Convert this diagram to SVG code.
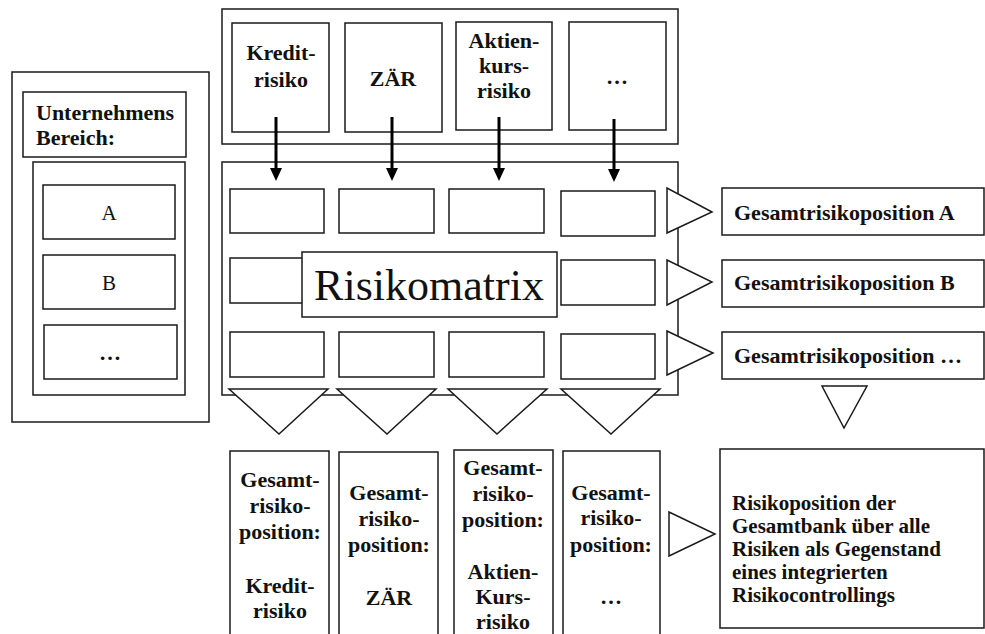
<svg xmlns="http://www.w3.org/2000/svg" width="985" height="634" viewBox="0 0 985 634">
<defs>
<style>
rect, polygon { fill: #fff; stroke: #1a1a1a; stroke-width: 1.5; }
rect.bg { stroke: none; }
text { font-family: "Liberation Serif", "Times New Roman", serif; fill: #111; }
.b { font-weight: bold; font-size: 22px; }
.s { font-weight: bold; font-size: 21px; }
.c { text-anchor: middle; }
.r { font-size: 21px; }
.arr { stroke: #000; stroke-width: 3; fill: none; }
.head { fill: #000; stroke: none; }
</style>
</defs>
<rect class="bg" width="985" height="634"/>

<g id="unternehmen">
<rect x="12" y="72" width="197" height="350"/>
<rect x="23" y="92" width="163" height="65"/>
<text class="b" x="36" y="120">Unternehmens</text>
<text class="b" x="36" y="145">Bereich:</text>
<rect x="33" y="162" width="152" height="233"/>
</g>
<g id="bereich-a"><rect x="43" y="185" width="132" height="54"/><text class="r c" x="109" y="220">A</text></g>
<g id="bereich-b"><rect x="43" y="255" width="132" height="54"/><text class="r c" x="109" y="290">B</text></g>
<g id="bereich-etc"><rect x="44" y="325" width="133" height="54"/><text class="b c" x="110" y="360">…</text></g>

<g id="risikoarten">
<rect x="222" y="9" width="456" height="135"/>
</g>
<g id="kreditrisiko"><rect x="232" y="23" width="97" height="109"/>
<text class="b c" x="281" y="60">Kredit-</text><text class="b c" x="281" y="87">risiko</text></g>
<g id="zaer"><rect x="345" y="23" width="97" height="109"/>
<text class="b c" x="393" y="86">ZÄR</text></g>
<g id="aktienkursrisiko"><rect x="456" y="22" width="96" height="108"/>
<text class="b c" x="504" y="48">Aktien-</text><text class="b c" x="504" y="73">kurs-</text><text class="b c" x="504" y="98">risiko</text></g>
<g id="weitere"><rect x="569" y="22" width="97" height="108"/>
<text class="b c" x="617" y="84">…</text></g>

<g id="risikomatrix">
<rect x="222" y="162" width="456" height="233"/>
<rect x="230" y="189" width="94" height="44"/>
<rect x="339" y="189" width="95" height="44"/>
<rect x="449" y="189" width="95" height="44"/>
<rect x="561" y="191" width="94" height="45"/>
<rect x="230" y="258" width="94" height="45"/>
<rect x="561" y="260" width="94" height="45"/>
<rect x="230" y="332" width="94" height="45"/>
<rect x="339" y="332" width="95" height="45"/>
<rect x="449" y="332" width="95" height="45"/>
<rect x="561" y="334" width="94" height="45"/>
<rect x="302" y="252" width="255" height="65"/>
<text class="c" x="429" y="300" font-size="44">Risikomatrix</text>
</g>

<g id="connectors">
<line class="arr" x1="276" y1="117" x2="276" y2="170"/><polygon class="head" points="270,168 282,168 276,181"/>
<line class="arr" x1="392" y1="117" x2="392" y2="170"/><polygon class="head" points="386,168 398,168 392,181"/>
<line class="arr" x1="499" y1="117" x2="499" y2="170"/><polygon class="head" points="493,168 505,168 499,181"/>
<line class="arr" x1="614" y1="119" x2="614" y2="171"/><polygon class="head" points="608,169 620,169 614,182"/>
<polygon points="229,389 328,389 279,434"/>
<polygon points="337,389 436,389 387,434"/>
<polygon points="448,389 547,389 497,434"/>
<polygon points="561,389 660,389 611,434"/>
<polygon points="667,188 667,233 712,212"/>
<polygon points="667,260 667,305 712,282"/>
<polygon points="667,331 667,375 713,353"/>
<polygon points="822,386 867,386 844,428"/>
<polygon points="669,512 669,556 715,534"/>
</g>

<g id="gesamt-a"><rect x="722" y="188" width="262" height="47"/>
<text class="b" x="734" y="220">Gesamtrisikoposition A</text></g>
<g id="gesamt-b"><rect x="722" y="260" width="262" height="47"/>
<text class="b" x="734" y="290">Gesamtrisikoposition B</text></g>
<g id="gesamt-etc"><rect x="722" y="332" width="262" height="47"/>
<text class="b" x="734" y="363">Gesamtrisikoposition …</text></g>

<g id="pos-kredit"><rect x="230" y="451" width="99" height="200"/>
<text class="b c" x="280" y="487">Gesamt-</text><text class="b c" x="280" y="513">risiko-</text><text class="b c" x="280" y="539">position:</text>
<text class="b c" x="280" y="593">Kredit-</text><text class="b c" x="280" y="618">risiko</text></g>
<g id="pos-zaer"><rect x="339" y="452" width="99" height="200"/>
<text class="b c" x="389" y="500">Gesamt-</text><text class="b c" x="389" y="526">risiko-</text><text class="b c" x="389" y="552">position:</text>
<text class="b c" x="389" y="605">ZÄR</text></g>
<g id="pos-aktien"><rect x="454" y="450" width="99" height="200"/>
<text class="b c" x="503" y="475">Gesamt-</text><text class="b c" x="503" y="501">risiko-</text><text class="b c" x="503" y="527">position:</text>
<text class="b c" x="503" y="579">Aktien-</text><text class="b c" x="503" y="604">Kurs-</text><text class="b c" x="503" y="629">risiko</text></g>
<g id="pos-weitere"><rect x="563" y="451" width="97" height="200"/>
<text class="b c" x="611" y="500">Gesamt-</text><text class="b c" x="611" y="525">risiko-</text><text class="b c" x="611" y="552">position:</text>
<text class="b c" x="611" y="604">…</text></g>

<g id="gesamtbank"><rect x="720" y="449" width="264" height="179"/>
<text class="s" x="732" y="510">Risikoposition der</text>
<text class="s" x="732" y="533">Gesamtbank über alle</text>
<text class="s" x="732" y="556">Risiken als Gegenstand</text>
<text class="s" x="732" y="579">eines integrierten</text>
<text class="s" x="732" y="602">Risikocontrollings</text></g>
</svg>
